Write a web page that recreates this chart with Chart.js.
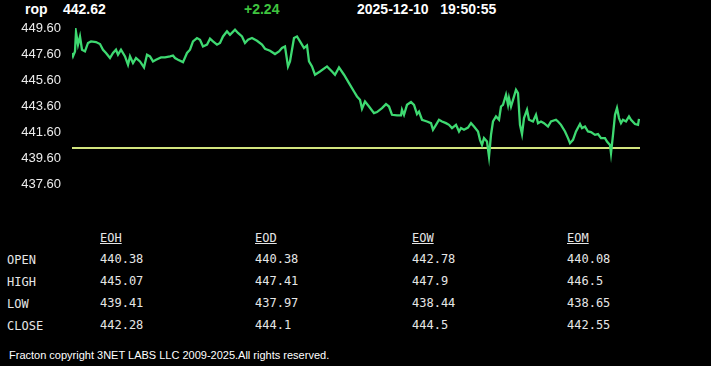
<!DOCTYPE html>
<html>
<head>
<meta charset="utf-8">
<script src="https://cdn.jsdelivr.net/npm/chart.js@4.4.1/dist/chart.umd.min.js"></script>
<style>
  html, body { margin: 0; padding: 0; background: #000; width: 711px; height: 366px; overflow: hidden; }
  .hdr { position: absolute; top: 1px; font: bold 14px "Liberation Sans", Arial, sans-serif; color: #fff; white-space: nowrap; }
  #chartWrap { position: absolute; left: 0; top: 0; width: 711px; height: 203px; }
  #price-chart { display: block; }
  .cell { position: absolute; font: 12px "DejaVu Sans Mono", monospace; color: #e6e6e6; white-space: nowrap; }
  .colhead { text-decoration: underline; }
  #footer { position: absolute; left: 9px; top: 349px; font: 11px "Liberation Sans", Arial, sans-serif; color: #fff; white-space: nowrap; }
</style>
</head>
<body>
<span class="hdr" style="left:25px">rop</span>
<span class="hdr" id="lastPrice" style="left:63px"></span>
<span class="hdr" id="change" style="left:244px;color:#3fc43f"></span>
<span class="hdr" id="stamp" style="left:357px"></span>
<div id="chartWrap"><canvas id="price-chart" width="711" height="203"></canvas></div>
<div id="table"></div>
<div id="footer">Fracton copyright 3NET LABS LLC 2009-2025.All rights reserved.</div>
<script>
// header values
var symbol = "rop";
var lastPrice = "442.62";
var change = "+2.24";
var stampDate = "2025-12-10";
var stampTime = "19:50:55";

// intraday series (sample index, price)
var times = [0, 1, 3, 4, 6, 8, 10, 13, 16, 19, 24, 28, 31, 34, 38, 41, 44, 46, 49, 53,
    56, 58, 61, 64, 68, 72, 75, 78, 81, 84, 89, 93, 98, 101, 103, 106, 111, 115, 118, 121,
    125, 128, 131, 135, 138, 141, 145, 148, 151, 155, 158, 163, 166, 170, 173, 176, 180, 185, 190, 193,
    198, 203, 207, 210, 213, 216, 218, 222, 225, 228, 232, 235, 237, 240, 243, 248, 255, 260, 263, 267,
    272, 277, 282, 285, 288, 290, 293, 297, 302, 305, 310, 314, 317, 320, 325, 329, 330, 332, 335, 339,
    342, 345, 347, 350, 355, 359, 361, 364, 367, 370, 374, 377, 380, 384, 387, 389, 392, 396, 399, 402,
    406, 408, 410, 412, 415, 417, 419, 421, 424, 427, 429, 431, 434, 436, 437, 439, 441, 444, 446, 448,
    450, 452, 455, 457, 461, 464, 466, 469, 472, 476, 479, 484, 486, 489, 493, 496, 498, 501, 504, 508,
    510, 513, 516, 519, 523, 526, 529, 533, 535, 538, 539, 541, 543, 545, 547, 549, 551, 554, 557, 559,
    563, 566, 567];
var prices = [447.68, 447.42, 447.80, 449.29, 448.32, 448.95, 447.93, 447.80, 448.45, 448.57, 448.52, 448.37, 447.93, 447.68, 447.29, 447.68, 447.93, 447.55, 447.93, 447.42,
    446.78, 447.42, 446.91, 447.29, 447.03, 446.57, 447.55, 447.42, 447.03, 447.16, 447.34, 447.34, 447.42, 447.49, 447.29, 447.16, 446.98, 447.68, 447.93, 448.57,
    448.83, 448.70, 448.18, 448.32, 448.78, 448.57, 448.32, 448.45, 448.95, 449.34, 449.08, 449.47, 449.22, 448.95, 448.45, 448.70, 448.83, 448.62, 448.32, 448.01,
    447.85, 447.60, 447.80, 448.06, 448.18, 446.65, 447.03, 448.83, 448.95, 448.57, 448.06, 448.26, 447.03, 446.65, 446.01, 446.26, 446.65, 446.26, 446.01, 446.57,
    446.01, 445.37, 444.72, 444.34, 444.08, 443.40, 443.95, 443.57, 443.06, 443.14, 443.45, 443.75, 443.57, 442.93, 442.88, 442.88, 443.32, 442.93, 443.70, 443.91,
    443.70, 442.98, 443.18, 442.55, 442.42, 442.29, 441.78, 442.16, 442.55, 442.42, 442.29, 442.16, 441.91, 442.16, 441.65, 441.91, 441.78, 441.95, 442.29, 442.03,
    441.65, 441.01, 440.62, 441.14, 440.88, 439.72, 441.39, 442.42, 442.80, 442.55, 443.57, 443.70, 444.47, 443.70, 444.22, 443.57, 444.08, 444.85, 444.60, 442.16,
    441.45, 442.68, 443.32, 442.55, 442.42, 442.93, 442.29, 442.42, 442.29, 442.03, 442.42, 442.55, 442.42, 442.16, 441.65, 441.14, 440.75, 441.01, 441.65, 442.22,
    441.91, 442.03, 441.65, 441.60, 441.39, 441.45, 441.14, 441.14, 440.88, 440.62, 439.98, 441.39, 442.93, 443.45, 442.68, 442.29, 442.55, 442.42, 442.80, 442.55,
    442.22, 442.16, 442.62];

var refLevel = 440.38;   // EOD open
var refStart = 0;
var refEnd = 568;
var yTicks = [437.6, 439.6, 441.6, 443.6, 445.6, 447.6, 449.6];

// summary table
var rowLabels = ["OPEN", "HIGH", "LOW", "CLOSE"];
var colLabels = ["EOH", "EOD", "EOW", "EOM"];
var eoh = ["440.38", "445.07", "439.41", "442.28"];
var eod = ["440.38", "447.41", "437.97", "444.1"];
var eow = ["442.78", "447.9", "438.44", "444.5"];
var eom = ["440.08", "446.5", "438.65", "442.55"];

function init_header()
{
    document.getElementById("lastPrice").textContent = lastPrice;
    document.getElementById("change").textContent = change;
    document.getElementById("stamp").innerHTML = stampDate + "&nbsp;&nbsp;&nbsp;" + stampTime;
}

function init_table()
{
    var cols = [eoh, eod, eow, eom];
    var colX = [100, 255, 412, 567];
    var html = "";
    for (var c = 0; c < colLabels.length; c++) {
        html += '<span class="cell colhead" style="left:' + colX[c] + 'px;top:231px">' + colLabels[c] + '</span>';
    }
    for (var r = 0; r < rowLabels.length; r++) {
        var top = 252 + r * 22;
        html += '<span class="cell" style="left:7px;top:' + (top + 1) + 'px">' + rowLabels[r] + '</span>';
        for (var c = 0; c < cols.length; c++) {
            html += '<span class="cell" style="left:' + colX[c] + 'px;top:' + top + 'px">' + cols[c][r] + '</span>';
        }
    }
    document.getElementById("table").innerHTML = html;
}

function init_price_chart()
{
    var ctx = document.getElementById("price-chart");
    var line = times.map(function (t, i) { return { x: t, y: prices[i] }; });

    new Chart(ctx, {
        type: 'line',
        data: {
            datasets: [
            {
                data: line,
                borderColor: "#3ed971",
                borderWidth: 2.3,
                pointRadius: 0,
                tension: 0
            },
            {
                data: [{ x: refStart, y: refLevel }, { x: refEnd, y: refLevel }],
                borderColor: "#d2e47e",
                borderWidth: 2,
                pointRadius: 0
            }]
        },
        options: {
            responsive: false,
            animation: false,
            layout: { padding: { top: 28, right: 71, bottom: 6, left: 0 } },
            plugins: { legend: { display: false }, tooltip: { enabled: false } },
            scales: {
                x: { type: 'linear', min: 0, max: 568, display: false },
                y: {
                    min: 437.6,
                    max: 449.6,
                    grid: { display: false, drawTicks: false },
                    border: { display: false },
                    afterBuildTicks: function (scale) {
                        scale.ticks = yTicks.map(function (v) { return { value: v }; });
                    },
                    afterFit: function (scale) { scale.width = 72; },
                    ticks: {
                        color: "#ececec",
                        padding: 11,
                        font: { family: "Liberation Sans", size: 13 },
                        callback: function (v) { return Number(v).toFixed(2); }
                    }
                }
            }
        }
    });
}

init_header();
init_table();
init_price_chart();
</script>
</body>
</html>
